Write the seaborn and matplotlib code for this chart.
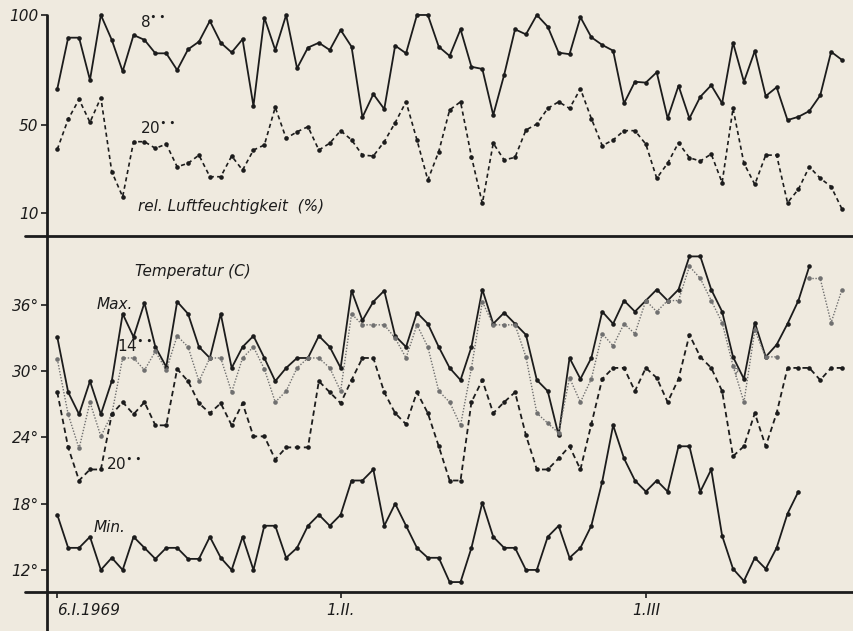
import numpy as np
import pandas as pd
import matplotlib
matplotlib.use('Agg')
import matplotlib.pyplot as plt
import seaborn as sns
from matplotlib.lines import Line2D

# day index, 0 = 6.I.1969
days = np.arange(73)
tick_days = [0, 26, 54]
tick_labels = ['6.I.1969', '1.II.', '1.III']

# relative humidity (%) at 8h and 20h
hum_8 = [66.4, 89.7, 89.7, 70.5, 100, 88.7, 74.4, 90.9, 88.7, 82.6,
         82.6, 75.0, 84.4, 87.9, 97.3, 87.4, 83.0, 89.0, 58.7, 98.8,
         84.1, 100, 75.8, 85.2, 87.4, 84.1, 93.2, 85.6, 53.6, 64.1,
         57.3, 86.1, 82.6, 100, 100, 85.6, 81.4, 93.5, 76.5, 75.5,
         54.6, 72.8, 93.5, 91.2, 100, 94.7, 82.9, 82.2, 99.0, 89.9,
         86.4, 83.8, 59.9, 69.7, 69.3, 74.0, 53.1, 67.9, 53.1, 62.9,
         68.1, 59.9, 87.4, 69.7, 83.7, 63.2, 67.2, 52.3, 53.8, 56.4,
         63.5, 83.3, 79.6]
hum_20 = [39.0, 52.7, 61.7, 51.3, 62.5, 28.9, 17.5, 42.5, 42.5, 39.5,
          41.4, 31.1, 32.7, 36.4, 26.6, 26.6, 36.0, 29.6, 38.7, 41.0,
          58.1, 44.0, 47.0, 49.3, 38.7, 41.8, 47.5, 43.3, 36.4, 36.0,
          42.5, 51.1, 60.6, 43.3, 25.1, 38.0, 56.9, 60.6, 35.7, 14.5,
          41.8, 34.2, 35.4, 47.8, 50.5, 57.6, 60.6, 57.6, 66.5, 53.0,
          40.7, 43.3, 47.5, 47.5, 41.4, 25.9, 32.7, 42.0, 35.2, 33.7,
          36.9, 23.9, 57.6, 32.7, 23.1, 36.4, 36.4, 14.8, 20.9, 31.1,
          25.9, 22.1, 11.9]

# temperature (C)
t_max = [33.1, 28.1, 26.1, 29.1, 26.1, 29.1, 35.2, 33.1, 36.2, 32.2,
         30.4, 36.3, 35.2, 32.2, 31.2, 35.2, 30.3, 32.2, 33.2, 31.2,
         29.1, 30.3, 31.2, 31.2, 33.2, 32.2, 30.3, 37.3, 34.6, 36.3,
         37.3, 33.2, 32.2, 35.3, 34.3, 32.2, 30.3, 29.2, 32.2, 37.4,
         34.3, 35.3, 34.3, 33.3, 29.2, 28.2, 24.2, 31.2, 29.3, 31.2,
         35.4, 34.3, 36.4, 35.4, 36.4, 37.4, 36.4, 37.4, 40.4, 40.4,
         37.4, 35.4, 31.3, 29.3, 34.4, 31.3, 32.4, 34.3, 36.4, 39.5,
         np.nan, np.nan, np.nan]
t_14 = [31.1, 26.1, 23.0, 27.2, 24.1, 26.1, 31.2, 31.2, 30.1, 31.8,
        30.1, 33.2, 32.2, 29.1, 31.2, 31.2, 28.1, 31.2, 32.2, 30.2,
        27.2, 28.2, 30.3, 31.2, 31.2, 30.3, 28.2, 35.2, 34.2, 34.2,
        34.2, 33.0, 31.2, 34.2, 32.2, 28.2, 27.2, 25.1, 30.3, 36.3,
        34.2, 34.2, 34.2, 31.3, 26.2, 25.3, 24.4, 29.4, 27.2, 29.3,
        33.4, 32.3, 34.3, 33.4, 36.4, 35.4, 36.4, 36.4, 39.5, 38.4,
        36.4, 34.4, 30.5, 27.2, 33.7, 31.3, 31.3, np.nan, np.nan, 38.4,
        38.4, 34.4, 37.4]
t_20 = [28.1, 23.1, 20.1, 21.1, 21.1, 26.1, 27.2, 26.1, 27.2, 25.1,
        25.1, 30.2, 29.1, 27.1, 26.2, 27.1, 25.1, 27.1, 24.1, 24.1,
        22.0, 23.1, 23.1, 23.1, 29.1, 28.1, 27.1, 29.2, 31.2, 31.2,
        28.1, 26.2, 25.2, 28.1, 26.2, 23.2, 20.1, 20.1, 27.2, 29.2,
        26.2, 27.2, 28.1, 24.2, 21.1, 21.1, 22.1, 23.2, 21.1, 25.2,
        29.3, 30.3, 30.3, 28.2, 30.3, 29.4, 27.2, 29.3, 33.3, 31.3,
        30.3, 28.2, 22.3, 23.2, 26.2, 23.2, 26.2, 30.3, 30.3, 30.3,
        29.2, 30.3, 30.3]
t_min = [17.0, 14.0, 14.0, 15.0, 12.0, 13.1, 12.0, 15.0, 14.0, 13.0,
         14.0, 14.0, 13.0, 13.0, 15.0, 13.1, 12.0, 15.0, 12.0, 16.0,
         16.0, 13.1, 14.0, 16.0, 17.0, 16.0, 17.0, 20.1, 20.1, 21.1,
         16.0, 18.0, 16.0, 14.0, 13.1, 13.1, 10.9, 10.9, 14.0, 18.1,
         15.0, 14.0, 14.0, 12.0, 12.0, 15.0, 16.0, 13.1, 14.0, 16.0,
         20.0, 25.1, 22.1, 20.1, 19.1, 20.1, 19.1, 23.2, 23.2, 19.1,
         21.1, 15.1, 12.1, 11.0, 13.1, 12.1, 14.0, 17.1, 19.1, np.nan,
         np.nan, np.nan, np.nan]

sns.set_theme(style='white')
plt.rcParams['font.family'] = ['DejaVu Sans']
plt.rcParams['mathtext.fontset'] = 'dejavusans'

bg = '#efeadf'
ink = '#1c1c1c'

fig = plt.figure(figsize=(8.54, 6.31), dpi=100, facecolor=bg)
ax_h = fig.add_axes([0.055, 0.626, 0.945, 0.374])
ax_t = fig.add_axes([0.055, 0.0618, 0.945, 0.5642])


def draw(ax, vals, **kw):
    # draw each unbroken run separately so gaps stay gaps
    s = pd.Series(vals, index=days, dtype=float)
    run = s.isna().cumsum()
    ok = s.notna()
    for _, part in s[ok].groupby(run[ok]):
        sns.lineplot(x=part.index, y=part.values, ax=ax, marker='o',
                     markersize=3.3, markeredgewidth=0, **kw)


draw(ax_h, hum_8, color=ink, linewidth=1.3)
draw(ax_h, hum_20, color=ink, linewidth=1.2, linestyle=(0, (2.5, 2)))

draw(ax_t, t_max, color=ink, linewidth=1.3)
draw(ax_t, t_14, color='#707070', linewidth=1.0, linestyle=(0, (1, 1.2)))
draw(ax_t, t_20, color=ink, linewidth=1.3, linestyle=(0, (3, 2)))
draw(ax_t, t_min, color=ink, linewidth=1.3)

for ax in (ax_h, ax_t):
    ax.set_facecolor('none')
    ax.set_xlim(-0.945, 73.1)
    ax.set_xlabel('')
    ax.set_ylabel('')
    for sp in ax.spines.values():
        sp.set_visible(False)
    ax.tick_params(axis='y', left=True, direction='out', length=4, width=1.2,
                   color=ink, labelsize=11, labelcolor=ink, pad=2)

ax_h.set_ylim(-0.3, 106.8)
ax_h.set_xticks([])
ax_h.set_yticks([10, 50, 100])
ax_h.set_yticklabels(['10', '50', '100'], fontstyle='italic')

ax_t.set_ylim(10.0, 42.25)
ax_t.set_yticks([12, 18, 24, 30, 36])
ax_t.set_yticklabels(['12°', '18°', '24°', '30°', '36°'], fontstyle='italic')
ax_t.set_xticks(tick_days)
ax_t.set_xticklabels(tick_labels, fontstyle='italic', fontsize=11, color=ink)
ax_t.tick_params(axis='x', bottom=True, direction='out', length=4, width=1.2,
                 color=ink, pad=4)
ax_t.get_xticklabels()[0].set_horizontalalignment('left')
ax_t.get_xticklabels()[0].set_x(-0.5)

# axis frame: vertical axis and the two long horizontal rules
fig.add_artist(Line2D([47 / 854, 47 / 854], [1 - 15 / 631, 0], color=ink,
                      lw=2.0, transform=fig.transFigure))
fig.add_artist(Line2D([25 / 854, 1], [1 - 236 / 631] * 2, color=ink,
                      lw=2.0, transform=fig.transFigure))
fig.add_artist(Line2D([25 / 854, 1], [1 - 592 / 631] * 2, color=ink,
                      lw=2.0, transform=fig.transFigure))

lab = dict(color=ink, fontsize=11, fontstyle='italic', va='center', ha='left')
ax_h.text(7.6, 96.8, r'$\mathit{8}^{\bullet\bullet}$', **lab)
ax_h.text(7.6, 48.7, r'$\mathit{20}^{\bullet\bullet}$', **lab)
ax_h.text(7.4, 13.3, 'rel. Luftfeuchtigkeit  (%)', **lab)

ax_t.text(7.1, 39.0, 'Temperatur (C)', **lab)
ax_t.text(3.65, 36.0, 'Max.', **lab)
ax_t.text(5.5, 32.3, r'$\mathit{14}^{\bullet\bullet}$', **lab)
ax_t.text(4.5, 21.6, r'$\mathit{20}^{\bullet\bullet}$', **lab)
ax_t.text(3.3, 15.8, 'Min.', **lab)
ax_t.text(62.2, 29.8, '?', color='#707070', fontsize=9, va='center', ha='center')

fig.savefig('out.png', dpi=100, facecolor=bg)
